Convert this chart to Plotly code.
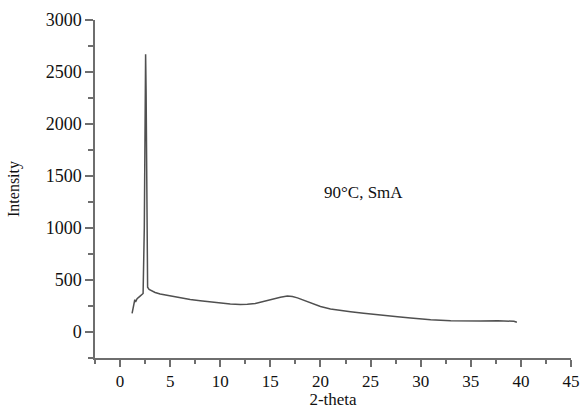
import plotly.graph_objects as go

two_theta = [1.2, 1.4, 1.47, 1.55, 1.7, 2.0, 2.3, 2.42, 2.5, 2.55, 2.6, 2.68, 2.75, 2.9,
             3.5, 4.0, 5.0, 6.0, 7.0, 8.0, 9.0, 10.0, 11.0, 12.0, 12.7, 13.5, 14.3, 15.0,
             16.0, 16.7, 17.2, 17.7, 18.5, 19.3, 20.0, 21.0, 21.7, 23.0, 24.3, 26.0, 27.7,
             29.0, 31.0, 33.0, 34.3, 36.0, 37.7, 39.0, 39.3, 39.6]
intensity = [180, 290, 310, 290, 320, 345, 370, 1000, 2300, 2670, 2300, 1000, 430, 410,
             380, 365, 345, 326, 312, 300, 288, 280, 270, 265, 266, 275, 295, 312,
             335, 345, 342, 328, 298, 268, 245, 222, 211, 195, 180, 160, 147,
             135, 117, 107, 104, 105, 108, 107, 103, 93]

x_ticks = [0, 5, 10, 15, 20, 25, 30, 35, 40, 45]
y_ticks = [0, 500, 1000, 1500, 2000, 2500, 3000]
label_text = "90°C, SmA"
label_pos = (24.3, 1340)

FONT = "Liberation Serif, Times New Roman, serif"
AXIS_COLOR = "#6e6e6e"

fig = go.Figure()
fig.add_trace(go.Scatter(x=two_theta, y=intensity, mode="lines",
                         line=dict(color="#505050", width=1.5), showlegend=False))

fig.add_annotation(x=label_pos[0], y=label_pos[1], text=label_text, showarrow=False,
                   font=dict(family=FONT, size=17, color="#111111"))

fig.update_layout(
    width=583, height=409,
    margin=dict(l=95, r=12, t=20, b=51),
    paper_bgcolor="white", plot_bgcolor="white",
    font=dict(family=FONT, size=17, color="#111111"),
    xaxis=dict(range=[-2.5, 45], tickvals=x_ticks, showgrid=False, zeroline=False,
               automargin=False,
               showline=True, linecolor=AXIS_COLOR, linewidth=1.5,
               ticks="outside", ticklen=7, tickwidth=1.5, tickcolor=AXIS_COLOR,
               minor=dict(dtick=2.5, tick0=0, ticks="outside", ticklen=4, tickwidth=1.5,
                          tickcolor=AXIS_COLOR, showgrid=False),
               tickfont=dict(family=FONT, size=17, color="#111111"),
               title=dict(text="2-theta", font=dict(family=FONT, size=17), standoff=6)),
    yaxis=dict(range=[-250, 3000], tickvals=y_ticks, showgrid=False, zeroline=False,
               automargin=False,
               showline=True, linecolor=AXIS_COLOR, linewidth=1.5,
               ticks="outside", ticklen=8, tickwidth=1.5, tickcolor=AXIS_COLOR,
               minor=dict(dtick=250, tick0=0, ticks="outside", ticklen=5, tickwidth=1.5,
                          tickcolor=AXIS_COLOR, showgrid=False),
               tickfont=dict(family=FONT, size=18, color="#111111"),
               title=dict(text="Intensity", font=dict(family=FONT, size=16), standoff=22)),
)

fig.write_html("out.html", config={"displayModeBar": False},
               post_script="document.body.style.margin='0';")
